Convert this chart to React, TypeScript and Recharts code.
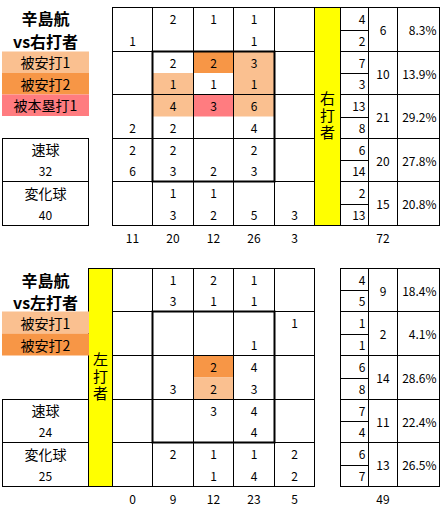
import React from 'react';
import { ScatterChart, Scatter, XAxis, YAxis } from 'recharts';

// ---------------- data ----------------
const PITCHER = '辛島航';
const PITCH_LABELS = ['速球', '変化球'];
const HIT_LABELS = ['被安打1', '被安打2', '被本塁打1'];

// vs right-handed batters
const R_TITLE = 'vs右打者';
const R_BATTER = '右打者';
const R_UPPER: (number | null)[][] = [
  [null, 2, 1, 1, null],
  [null, 2, 2, 3, null],
  [null, 4, 3, 6, null],
  [2, 2, null, 2, null],
  [null, 1, 1, null, null],
];
const R_LOWER: (number | null)[][] = [
  [1, null, null, 1, null],
  [null, 1, 1, 1, null],
  [2, 2, null, 4, null],
  [6, 3, 2, 3, null],
  [null, 3, 2, 5, 3],
];
// 0 none, 1 被安打1, 2 被安打2, 3 被本塁打1
const R_UPPER_HIT = [
  [0, 0, 0, 0, 0],
  [0, 0, 2, 1, 0],
  [0, 1, 3, 1, 0],
  [0, 0, 0, 0, 0],
  [0, 0, 0, 0, 0],
];
const R_LOWER_HIT = [
  [0, 0, 0, 0, 0],
  [0, 1, 0, 1, 0],
  [0, 0, 0, 0, 0],
  [0, 0, 0, 0, 0],
  [0, 0, 0, 0, 0],
];
const R_COL_TOTALS = [11, 20, 12, 26, 3];
const R_ROW_UPPER = [4, 7, 13, 6, 2];
const R_ROW_LOWER = [2, 3, 8, 14, 13];
const R_ROW_TOTALS = [6, 10, 21, 20, 15];
const R_ROW_PCT = ['8.3%', '13.9%', '29.2%', '27.8%', '20.8%'];
const R_TOTAL = 72;
const R_PITCHES = [32, 40];
const R_LEGEND = [1, 2, 3];

// vs left-handed batters
const L_TITLE = 'vs左打者';
const L_BATTER = '左打者';
const L_UPPER: (number | null)[][] = [
  [null, 1, 2, 1, null],
  [null, null, null, null, 1],
  [null, null, 2, 4, null],
  [null, null, 3, 4, null],
  [null, 2, 1, 1, 2],
];
const L_LOWER: (number | null)[][] = [
  [null, 3, 1, 1, null],
  [null, null, null, 1, null],
  [null, 3, 2, 3, null],
  [null, null, null, 4, null],
  [null, null, 1, 4, 2],
];
const L_UPPER_HIT = [
  [0, 0, 0, 0, 0],
  [0, 0, 0, 0, 0],
  [0, 0, 2, 0, 0],
  [0, 0, 0, 0, 0],
  [0, 0, 0, 0, 0],
];
const L_LOWER_HIT = [
  [0, 0, 0, 0, 0],
  [0, 0, 0, 0, 0],
  [0, 0, 1, 0, 0],
  [0, 0, 0, 0, 0],
  [0, 0, 0, 0, 0],
];
const L_COL_TOTALS = [0, 9, 12, 23, 5];
const L_ROW_UPPER = [4, 1, 6, 7, 6];
const L_ROW_LOWER = [5, 1, 8, 4, 7];
const L_ROW_TOTALS = [9, 2, 14, 11, 13];
const L_ROW_PCT = ['18.4%', '4.1%', '28.6%', '22.4%', '26.5%'];
const L_TOTAL = 49;
const L_PITCHES = [24, 25];
const L_LEGEND = [1, 2];

// ---------------- layout & style ----------------
const W = 445;
const H = 506;
const FONT = '"Noto Sans CJK JP", "Noto Sans", sans-serif';
const HIT_COLORS = ['none', '#FAC090', '#F79646', '#FF7C80'];
const YELLOW = '#FFFF00';

type Layout = {
  cols: number[];
  rows: number[];
  batterX: [number, number];
  tableX: number[];
  totalsY: number;
  titleY: [number, number];
  leftX: [number, number];
};

const TOP_LAYOUT: Layout = {
  cols: [112.5, 152.5, 193.5, 233.5, 274.5, 314.5],
  rows: [7.5, 51.5, 94.5, 138.5, 181.5, 225.5],
  batterX: [314.5, 340.5],
  tableX: [340.5, 368.5, 397.5, 439.5],
  totalsY: 237,
  titleY: [18, 41],
  leftX: [2.5, 88.5],
};
const BOTTOM_LAYOUT: Layout = {
  cols: [112.5, 152.5, 193.5, 233.5, 274.5, 314.5],
  rows: [268.5, 311.5, 355.5, 399.5, 442.5, 486.5],
  batterX: [88.5, 112.5],
  tableX: [340.5, 368.5, 397.5, 439.5],
  totalsY: 498,
  titleY: [280, 302],
  leftX: [2.5, 88.5],
};

type Panel = {
  layout: Layout;
  title: string;
  batter: string;
  upper: (number | null)[][];
  lower: (number | null)[][];
  upperHit: number[][];
  lowerHit: number[][];
  colTotals: number[];
  rowUpper: number[];
  rowLower: number[];
  rowTotals: number[];
  rowPct: string[];
  total: number;
  pitches: number[];
  legend: number[];
};

const PANELS: Panel[] = [
  {
    layout: TOP_LAYOUT, title: R_TITLE, batter: R_BATTER, upper: R_UPPER, lower: R_LOWER,
    upperHit: R_UPPER_HIT, lowerHit: R_LOWER_HIT, colTotals: R_COL_TOTALS,
    rowUpper: R_ROW_UPPER, rowLower: R_ROW_LOWER, rowTotals: R_ROW_TOTALS, rowPct: R_ROW_PCT,
    total: R_TOTAL, pitches: R_PITCHES, legend: R_LEGEND,
  },
  {
    layout: BOTTOM_LAYOUT, title: L_TITLE, batter: L_BATTER, upper: L_UPPER, lower: L_LOWER,
    upperHit: L_UPPER_HIT, lowerHit: L_LOWER_HIT, colTotals: L_COL_TOTALS,
    rowUpper: L_ROW_UPPER, rowLower: L_ROW_LOWER, rowTotals: L_ROW_TOTALS, rowPct: L_ROW_PCT,
    total: L_TOTAL, pitches: L_PITCHES, legend: L_LEGEND,
  },
];

const mid = (a: number, b: number) => (a + b) / 2;

// ---------------- build mark tables ----------------
const cells: any[] = [];
const zones: any[] = [];
const colTotals: any[] = [];
const tableRows: any[] = [];
const grandTotals: any[] = [];
const batters: any[] = [];
const titles: any[] = [];
const legends: any[] = [];
const pitchBoxes: any[] = [];

PANELS.forEach((p) => {
  const L = p.layout;
  for (let r = 0; r < 5; r++) {
    for (let c = 0; c < 5; c++) {
      cells.push({
        x: mid(L.cols[c], L.cols[c + 1]), y: mid(L.rows[r], L.rows[r + 1]),
        w: L.cols[c + 1] - L.cols[c], h: L.rows[r + 1] - L.rows[r],
        upper: p.upper[r][c], lower: p.lower[r][c],
        upperHit: p.upperHit[r][c], lowerHit: p.lowerHit[r][c],
      });
    }
    tableRows.push({
      x: mid(L.tableX[0], L.tableX[3]), y: mid(L.rows[r], L.rows[r + 1]),
      xs: L.tableX, h: L.rows[r + 1] - L.rows[r],
      upper: p.rowUpper[r], lower: p.rowLower[r], total: p.rowTotals[r], pct: p.rowPct[r],
    });
  }
  zones.push({
    x: mid(L.cols[1], L.cols[4]), y: mid(L.rows[1], L.rows[4]),
    w: L.cols[4] - L.cols[1], h: L.rows[4] - L.rows[1],
  });
  p.colTotals.forEach((v, c) => {
    colTotals.push({ x: mid(L.cols[c], L.cols[c + 1]), y: L.totalsY, label: v });
  });
  grandTotals.push({ x: mid(L.tableX[1], L.tableX[2]), y: L.totalsY, label: p.total });
  batters.push({
    x: mid(L.batterX[0], L.batterX[1]), y: mid(L.rows[0], L.rows[5]),
    w: L.batterX[1] - L.batterX[0], h: L.rows[5] - L.rows[0], label: p.batter,
  });
  titles.push({ x: mid(L.leftX[0], L.leftX[1]), y: L.titleY[0], label: PITCHER });
  titles.push({ x: mid(L.leftX[0], L.leftX[1]), y: L.titleY[1], label: p.title });
  const halfRow = (L.rows[2] - L.rows[1]) / 2;
  p.legend.forEach((code, i) => {
    legends.push({
      x: mid(L.leftX[0] - 0.5, L.leftX[1] + 0.5), y: L.rows[1] + halfRow * (i + 0.5),
      w: L.leftX[1] - L.leftX[0] + 1, h: halfRow, label: HIT_LABELS[code - 1], fill: HIT_COLORS[code],
    });
  });
  p.pitches.forEach((v, i) => {
    pitchBoxes.push({
      x: mid(L.leftX[0], L.leftX[1]), y: mid(L.rows[3 + i], L.rows[4 + i]),
      w: L.leftX[1] - L.leftX[0], h: L.rows[4 + i] - L.rows[3 + i],
      label: PITCH_LABELS[i], value: v,
    });
  });
});

// ---------------- shapes ----------------
const numStyle = { fontFamily: FONT, fontSize: 12, fill: '#000' } as const;

const CellShape = (props: any) => {
  const { cx, cy, payload } = props;
  const { w, h, upper, lower, upperHit, lowerHit } = payload;
  const x0 = cx - w / 2;
  const y0 = cy - h / 2;
  return (
    <g>
      {upperHit ? <rect x={x0 + 0.5} y={y0 + 0.5} width={w - 1} height={h / 2 - 0.5} fill={HIT_COLORS[upperHit]} /> : null}
      {lowerHit ? <rect x={x0 + 0.5} y={cy} width={w - 1} height={h / 2 - 0.5} fill={HIT_COLORS[lowerHit]} /> : null}
      <rect x={x0} y={y0} width={w} height={h} fill="none" stroke="#000" strokeWidth={1} />
      {upper != null ? (
        <text x={cx} y={y0 + h / 4} textAnchor="middle" dominantBaseline="central" {...numStyle}>{upper}</text>
      ) : null}
      {lower != null ? (
        <text x={cx} y={y0 + (3 * h) / 4} textAnchor="middle" dominantBaseline="central" {...numStyle}>{lower}</text>
      ) : null}
    </g>
  );
};

const ZoneShape = (props: any) => {
  const { cx, cy, payload } = props;
  const { w, h } = payload;
  return <rect x={cx - w / 2} y={cy - h / 2} width={w} height={h} fill="none" stroke="#000" strokeWidth={2} />;
};

const LabelShape = (props: any) => {
  const { cx, cy, payload } = props;
  return (
    <text x={cx} y={cy} textAnchor="middle" dominantBaseline="central" {...numStyle}>{payload.label}</text>
  );
};

const TitleShape = (props: any) => {
  const { cx, cy, payload } = props;
  return (
    <text x={cx} y={cy} textAnchor="middle" dominantBaseline="central"
      fontFamily={FONT} fontSize={16} fontWeight="bold" fill="#000">{payload.label}</text>
  );
};

const TableRowShape = (props: any) => {
  const { cx, cy, payload } = props;
  const { xs, h, upper, lower, total, pct } = payload;
  const dx = cx - mid(xs[0], xs[3]);
  const X = xs.map((v: number) => v + dx);
  const y0 = cy - h / 2;
  return (
    <g>
      <rect x={X[0]} y={y0} width={X[3] - X[0]} height={h} fill="none" stroke="#000" strokeWidth={1} />
      <line x1={X[1]} x2={X[1]} y1={y0} y2={y0 + h} stroke="#000" strokeWidth={1} />
      <line x1={X[2]} x2={X[2]} y1={y0} y2={y0 + h} stroke="#000" strokeWidth={1} />
      <line x1={X[0]} x2={X[1]} y1={Math.round(cy) + 0.5} y2={Math.round(cy) + 0.5} stroke="#000" strokeWidth={1} />
      <text x={X[1] - 3} y={y0 + h / 4} textAnchor="end" dominantBaseline="central" {...numStyle}>{upper}</text>
      <text x={X[1] - 3} y={y0 + (3 * h) / 4} textAnchor="end" dominantBaseline="central" {...numStyle}>{lower}</text>
      <text x={mid(X[1], X[2])} y={cy} textAnchor="middle" dominantBaseline="central" {...numStyle}>{total}</text>
      <text x={X[3] - 3} y={cy} textAnchor="end" dominantBaseline="central" {...numStyle}>{pct}</text>
    </g>
  );
};

const BatterShape = (props: any) => {
  const { cx, cy, payload } = props;
  const { w, h, label } = payload;
  return (
    <g>
      <rect x={cx - w / 2} y={cy - h / 2} width={w} height={h} fill={YELLOW} stroke="#000" strokeWidth={1} />
      <text x={cx} y={cy} textAnchor="middle" fontFamily={FONT} fontSize={15} fill="#000"
        letterSpacing={2} style={{ writingMode: 'vertical-rl' } as any}>{label}</text>
    </g>
  );
};

const LegendShape = (props: any) => {
  const { cx, cy, payload } = props;
  const { w, h, label, fill } = payload;
  return (
    <g>
      <rect x={cx - w / 2} y={cy - h / 2} width={w} height={h} fill={fill} />
      <text x={cx} y={cy} textAnchor="middle" dominantBaseline="central"
        fontFamily={FONT} fontSize={14} fill="#000">{label}</text>
    </g>
  );
};

const PitchBoxShape = (props: any) => {
  const { cx, cy, payload } = props;
  const { w, h, label, value } = payload;
  return (
    <g>
      <rect x={cx - w / 2} y={cy - h / 2} width={w} height={h} fill="#fff" stroke="#000" strokeWidth={1} />
      <text x={cx} y={cy - h / 4} textAnchor="middle" dominantBaseline="central"
        fontFamily={FONT} fontSize={14} fill="#000">{label}</text>
      <text x={cx} y={cy + h / 4} textAnchor="middle" dominantBaseline="central" {...numStyle}>{value}</text>
    </g>
  );
};

export default function App() {
  return (
    <div style={{ position: 'absolute', left: 0, top: 0, width: W, height: H, background: '#fff' }}>
      <ScatterChart width={W} height={H} margin={{ top: 0, right: 0, bottom: 0, left: 0 }}>
        <XAxis type="number" dataKey="x" domain={[0, W]} hide allowDataOverflow />
        <YAxis type="number" dataKey="y" domain={[0, H]} reversed hide allowDataOverflow />
        <Scatter data={cells} shape={CellShape} isAnimationActive={false} />
        <Scatter data={zones} shape={ZoneShape} isAnimationActive={false} />
        <Scatter data={tableRows} shape={TableRowShape} isAnimationActive={false} />
        <Scatter data={batters} shape={BatterShape} isAnimationActive={false} />
        <Scatter data={colTotals} shape={LabelShape} isAnimationActive={false} />
        <Scatter data={grandTotals} shape={LabelShape} isAnimationActive={false} />
        <Scatter data={titles} shape={TitleShape} isAnimationActive={false} />
        <Scatter data={legends} shape={LegendShape} isAnimationActive={false} />
        <Scatter data={pitchBoxes} shape={PitchBoxShape} isAnimationActive={false} />
      </ScatterChart>
    </div>
  );
}
